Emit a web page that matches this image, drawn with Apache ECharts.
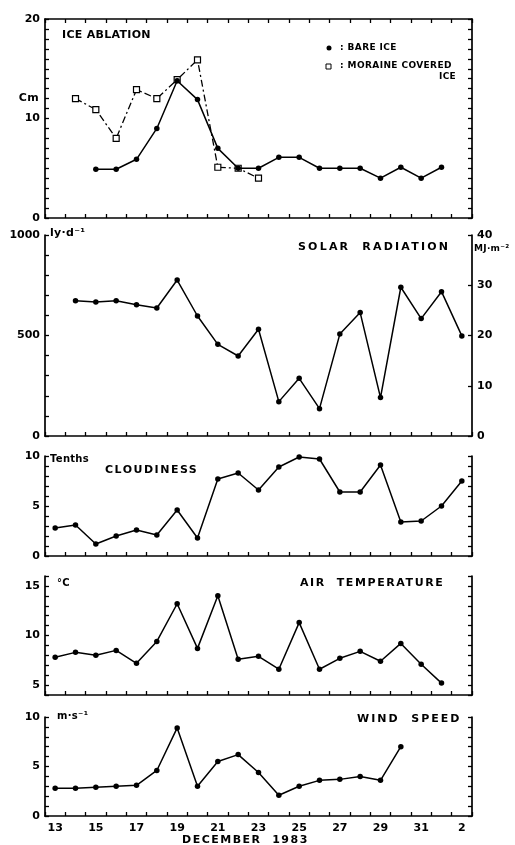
<!DOCTYPE html>
<html>
<head>
<meta charset="utf-8">
<script src="https://cdn.jsdelivr.net/npm/echarts@6/dist/echarts.min.js"></script>
<style>
html,body{margin:0;padding:0;background:#fff;}
#chart{width:515px;height:845px;}
</style>
</head>
<body>
<div id="chart"></div>
<script>
// ---- data ----
const days = ['13','14','15','16','17','18','19','20','21','22','23','24','25','26','27','28','29','30','31','1','2'];
const bareIce =    [null,null,4.9,4.9,5.9,9.0,13.8,11.9,7.0,5.0,5.0,6.1,6.1,5.0,5.0,5.0,4.0,5.1,4.0,5.1,null];
const moraineIce = [null,12.0,10.9,8.0,12.9,12.0,13.9,15.9,5.1,5.0,4.0,null,null,null,null,null,null,null,null,null,null];
const solar =      [null,673,667,673,653,637,776,597,456,398,531,171,287,136,507,614,191,740,584,718,498];
const cloudiness = [2.8,3.1,1.2,2.0,2.6,2.1,4.6,1.8,7.7,8.3,6.6,8.9,9.9,9.7,6.4,6.4,9.1,3.4,3.5,5.0,7.5];
const airTemp =    [7.8,8.3,8.0,8.5,7.2,9.4,13.2,8.7,14.0,7.6,7.9,6.6,11.3,6.6,7.7,8.4,7.4,9.2,7.1,5.2,null];
const windSpeed =  [2.8,2.8,2.9,3.0,3.1,4.6,8.9,3.0,5.5,6.2,4.4,2.1,3.0,3.6,3.7,4.0,3.6,7.0,null,null,null];

// letter spacing for lettered titles (canvas only)
const SPACED = {
  'SOLAR  RADIATION':'2.2px','CLOUDINESS':'1.5px','AIR  TEMPERATURE':'1.6px',
  'WIND  SPEED':'2px','DECEMBER  1983':'1.5px','ICE ABLATION':'0.3px',
  ': BARE ICE':'0.4px',': MORAINE COVERED':'0.4px'
};
const _fill = CanvasRenderingContext2D.prototype.fillText;
CanvasRenderingContext2D.prototype.fillText = function(t){
  const ls = SPACED[t];
  if (ls && ('letterSpacing' in this)) {
    const prev = this.letterSpacing; this.letterSpacing = ls;
    _fill.apply(this, arguments); this.letterSpacing = prev; return;
  }
  return _fill.apply(this, arguments);
};

const FONT = 'DejaVu Sans';
const LEFT = 45, RIGHT = 43;
const grids = [
  {left:LEFT,right:RIGHT,top:19,height:199},
  {left:LEFT,right:RIGHT,top:235,height:201},
  {left:LEFT,right:RIGHT,top:456,height:100},
  {left:LEFT,right:RIGHT,top:576,height:119},
  {left:LEFT,right:RIGHT,top:717,height:99}
];
const axLine = {show:true,onZero:false,lineStyle:{color:'#000',width:1.7}};
const tick = {show:true,inside:true,length:4,lineStyle:{color:'#000',width:1.3}};
const lbl = {color:'#000',fontFamily:FONT,fontWeight:'bold',fontSize:11};

function xAx(g, pos, showLabel){
  return {type:'category',gridIndex:g,position:pos,data:days,boundaryGap:true,
    axisLine:axLine,axisTick:Object.assign({interval:0},tick),
    axisLabel:Object.assign({show:showLabel,interval:1,margin:7},lbl),
    splitLine:{show:false}};
}
function yAx(g, pos, min, max, interval, every, showLabel){
  return {type:'value',gridIndex:g,position:pos,min:min,max:max,interval:interval,
    axisLine:axLine,axisTick:tick,splitLine:{show:false},
    axisLabel:Object.assign({show:showLabel,margin:5,
      formatter:function(v){ return (Math.round(v) % every === 0) ? String(Math.round(v)) : ''; }},lbl)};
}
const lineS = (name, data, xi, yi, extra) => Object.assign({
  type:'line',name:name,data:data,xAxisIndex:xi,yAxisIndex:yi,
  symbol:'circle',symbolSize:5.5,
  lineStyle:{color:'#000',width:1.5},itemStyle:{color:'#000'},
  connectNulls:false,z:3
}, extra||{});

function txt(text, x, y, size, align, weight){
  return {type:'text',x:x,y:y,z:10,style:{text:text,fill:'#000',
    font:(weight||'bold')+' '+size+'px "'+FONT+'"',textAlign:align||'left',textVerticalAlign:'middle'}};
}

const option = {
  animation:false,
  backgroundColor:'#fff',
  grid:grids,
  xAxis:[xAx(0,'bottom',false),xAx(0,'top',false),xAx(1,'bottom',false),xAx(2,'bottom',false),xAx(3,'bottom',false),xAx(4,'bottom',true)],
  yAxis:[
    yAx(0,'left',0,20,1,10,true), yAx(0,'right',0,20,1,10,false),
    yAx(1,'left',0,1000,100,500,true), yAx(1,'right',0,40,10,10,true),
    yAx(2,'left',0,10,1,5,true), yAx(2,'right',0,10,1,5,false),
    yAx(3,'left',4,16,1,5,true), yAx(3,'right',4,16,1,5,false),
    yAx(4,'left',0,10,1,5,true), yAx(4,'right',0,10,1,5,false)
  ],
  series:[
    lineS('MORAINE COVERED ICE', moraineIce, 0, 0, {symbol:'rect',symbolSize:6,
      itemStyle:{color:'#fff',borderColor:'#000',borderWidth:1.2},
      lineStyle:{color:'#000',width:1.3,type:[7,3,2,3]},z:2}),
    lineS('BARE ICE', bareIce, 0, 0),
    lineS('SOLAR RADIATION', solar, 2, 2),
    lineS('CLOUDINESS', cloudiness, 3, 4),
    lineS('AIR TEMPERATURE', airTemp, 4, 6),
    lineS('WIND SPEED', windSpeed, 5, 8)
  ],
  graphic:[
    txt('ICE ABLATION',62,35,11),
    {type:'circle',shape:{cx:329,cy:48,r:2.5},style:{fill:'#000'},z:10},
    txt(': BARE ICE',340,48,9),
    {type:'rect',shape:{x:326,y:64,width:5,height:5},style:{fill:'#fff',stroke:'#000',lineWidth:1},z:10},
    txt(': MORAINE COVERED',340,66,9),
    txt('ICE',456,77,9,'right'),
    txt('Cm',39,98,11,'right'),
    txt('ly·d⁻¹',50,233,11),
    txt('SOLAR  RADIATION',298,247,11),
    txt('MJ·m⁻²',474,249,9),
    txt('Tenths',50,459,10),
    txt('CLOUDINESS',105,470,11),
    txt('°C',57,583,10),
    txt('AIR  TEMPERATURE',300,583,11),
    txt('m·s⁻¹',57,716,10),
    txt('WIND  SPEED',357,719,11),
    txt('DECEMBER  1983',182,840,11)
  ]
};
const chart = echarts.init(document.getElementById('chart'), null, {renderer:'canvas'});
chart.setOption(option);
</script>
</body>
</html>
